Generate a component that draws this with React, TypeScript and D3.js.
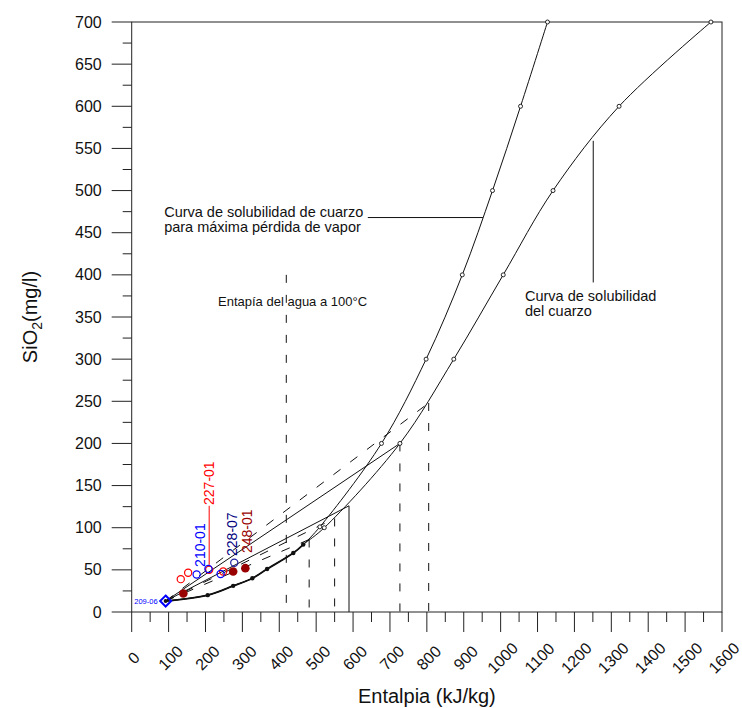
import React from "react";
import * as d3 from "d3";

// ---------- data (kJ/kg , mg/l) ----------
const xTickValues = [0, 100, 200, 300, 400, 500, 600, 700, 800, 900, 1000, 1100, 1200, 1300, 1400, 1500, 1600];
const yTickValues = [0, 50, 100, 150, 200, 250, 300, 350, 400, 450, 500, 550, 600, 650, 700];

// common low-temperature part of both solubility curves
const sharedLow: [number, number][] = [
  [92, 13], [206, 20], [275, 31], [327, 40], [367, 51], [438, 70], [465, 80],
];
// quartz solubility (no steam loss)
const quartzUpper: [number, number][] = [
  [522, 100], [727, 200], [873, 300], [1007, 400], [1142, 500], [1321, 600], [1570, 700],
];
// quartz solubility for maximum steam loss
const steamLossUpper: [number, number][] = [
  [510, 101], [677, 200], [798, 300], [896, 400], [978, 500], [1054, 600], [1127, 700],
];

const coldPoint: [number, number] = [92, 13]; // 209-06
const solidMixEnds: [number, number][] = [[589, 126], [727, 200]];
const dashedMixEnds: [number, number][] = [[481, 86], [550, 111], [805, 248]];
// vertical drop lines: [enthalpy, silica at top]
const solidDrops: [number, number][] = [[589, 126]];
const dashedDrops: [number, number][] = [[481, 86], [550, 111], [727, 200], [805, 248]];
const boilingWater: [number, number] = [419, 400];

const redOpen: [number, number][] = [[133, 39], [153, 46.5], [210, 50], [248, 48]];
const blueOpen: [number, number][] = [[176, 44.5], [208, 51], [241, 45]];
const navyOpen: [number, number][] = [[278, 58.5]];
const darkRedFilled: [number, number][] = [[140, 22], [275, 48], [308, 52]];

const sampleLabels = [
  { text: "227-01", x: 210, y: 127, color: "#ff0000" },
  { text: "210-01", x: 184, y: 53.5, color: "#0000ff" },
  { text: "228-07", x: 273, y: 66.5, color: "#000080" },
  { text: "248-01", x: 312.5, y: 70, color: "#990000" },
];
const leader22701: [number, number][] = [[210, 126], [210, 56]];

const noteSteam = { lines: ["Curva de solubilidad de cuarzo", "para máxima pérdida de vapor"], x: 88, y: 469 };
const noteSteamLeader: [number, number][] = [[640, 468], [952, 468]];
const noteQuartz = { lines: ["Curva de solubilidad", "del cuarzo"], x: 1066, y: 369 };
const noteQuartzLeader: [number, number][] = [[1251, 559], [1251, 391]];
const noteBoiling = { text: "Entapía del agua a 100°C", x: 234, y: 363 };

const FONT = "'Liberation Sans', Arial, Helvetica, sans-serif";

export default function App() {
  const W = 742, H = 708;
  const x = d3.scaleLinear().domain([0, 1600]).range([131.7, 722]);
  const y = d3.scaleLinear().domain([0, 700]).range([612, 22]);

  const curve = d3.line<[number, number]>().x(d => x(d[0])).y(d => y(d[1])).curve(d3.curveCatmullRom.alpha(0.5));
  const straight = d3.line<[number, number]>().x(d => x(d[0])).y(d => y(d[1]));

  const quartzAll = sharedLow.concat(quartzUpper);
  const steamAll = sharedLow.concat(steamLossUpper);

  const xMinor = xTickValues.slice(0, -1).map(v => v + 50);
  const yMinor = yTickValues.slice(0, -1).map(v => v + 25);

  const [x0, x1] = x.range();
  const [y0, y1] = y.range();

  const diamond = (cx: number, cy: number, r: number) =>
    `M${cx},${cy - r}L${cx + r},${cy}L${cx},${cy + r}L${cx - r},${cy}Z`;

  return (
    <svg width={W} height={H} style={{ position: "absolute", left: 0, top: 0, background: "#fff" }} fontFamily={FONT}>
      <rect x={0} y={0} width={W} height={H} fill="#fff" />
      {/* frame */}
      <rect x={x0} y={y1} width={x1 - x0} height={y0 - y1} fill="none" stroke="#222" strokeWidth={1} />

      {/* y ticks */}
      {yTickValues.map(v => (
        <g key={"yt" + v}>
          <line x1={x0 - 20} x2={x0} y1={y(v)} y2={y(v)} stroke="#222" />
          <text x={x0 - 30} y={y(v)} textAnchor="end" dominantBaseline="central" fontSize={16} fill="#111">{v}</text>
        </g>
      ))}
      {yMinor.map(v => (
        <line key={"ym" + v} x1={x0 - 9} x2={x0} y1={y(v)} y2={y(v)} stroke="#222" />
      ))}
      {/* x ticks */}
      {xTickValues.map(v => (
        <g key={"xt" + v}>
          <line x1={x(v)} x2={x(v)} y1={y0} y2={y0 + 20} stroke="#222" />
          <text transform={`translate(${x(v) + 2},${y0 + 46}) rotate(-45)`} textAnchor="middle" dominantBaseline="central" fontSize={16} fill="#111">{v}</text>
        </g>
      ))}
      {xMinor.map(v => (
        <line key={"xm" + v} x1={x(v)} x2={x(v)} y1={y0} y2={y0 + 10} stroke="#222" />
      ))}

      {/* axis titles */}
      <text x={(x0 + x1) / 2} y={703} textAnchor="middle" fontSize={20} fill="#111">Entalpia (kJ/kg)</text>
      <text transform={`translate(37,${(y0 + y1) / 2})rotate(-90)`} textAnchor="middle" fontSize={20} fill="#111">
        SiO<tspan dy={5} fontSize={14}>2</tspan><tspan dy={-5}>(mg/l)</tspan>
      </text>

      {/* boiling water enthalpy */}
      <line x1={x(boilingWater[0])} x2={x(boilingWater[0])} y1={y(boilingWater[1])} y2={y0} stroke="#111" strokeDasharray="8,12" />

      {/* mixing lines */}
      {solidMixEnds.map((e, i) => (
        <path key={"sm" + i} d={straight([coldPoint, e]) || ""} fill="none" stroke="#111" strokeWidth={1} />
      ))}
      {dashedMixEnds.map((e, i) => (
        <path key={"dm" + i} d={straight([coldPoint, e]) || ""} fill="none" stroke="#111" strokeDasharray="9,12" />
      ))}
      {solidDrops.map((e, i) => (
        <line key={"sd" + i} x1={x(e[0])} x2={x(e[0])} y1={y(e[1])} y2={y0} stroke="#111" strokeWidth={1} />
      ))}
      {dashedDrops.map((e, i) => (
        <line key={"dd" + i} x1={x(e[0])} x2={x(e[0])} y1={y(e[1])} y2={y0} stroke="#111" strokeDasharray="8,12" />
      ))}

      {/* solubility curves */}
      <path d={curve(quartzAll) || ""} fill="none" stroke="#111" strokeWidth={1} />
      <path d={curve(steamAll) || ""} fill="none" stroke="#111" strokeWidth={1} />
      <path d={curve(sharedLow) || ""} fill="none" stroke="#111" strokeWidth={1.8} />
      {sharedLow.slice(1).map((p, i) => (
        <circle key={"sl" + i} cx={x(p[0])} cy={y(p[1])} r={2.2} fill="#111" />
      ))}
      {quartzUpper.concat(steamLossUpper).map((p, i) => (
        <circle key={"up" + i} cx={x(p[0])} cy={y(p[1])} r={2} fill="#fff" stroke="#111" strokeWidth={0.9} />
      ))}

      {/* annotations */}
      {noteSteam.lines.map((t, i) => (
        <text key={"ns" + i} x={x(noteSteam.x)} y={y(noteSteam.y) + i * 15} fontSize={14.5} fill="#111">{t}</text>
      ))}
      <path d={straight(noteSteamLeader) || ""} stroke="#111" fill="none" />
      {noteQuartz.lines.map((t, i) => (
        <text key={"nq" + i} x={x(noteQuartz.x)} y={y(noteQuartz.y) + i * 15} fontSize={14.5} fill="#111">{t}</text>
      ))}
      <path d={straight(noteQuartzLeader) || ""} stroke="#111" fill="none" />
      <text x={x(noteBoiling.x)} y={y(noteBoiling.y)} fontSize={13} fill="#111">{noteBoiling.text}</text>

      {/* samples */}
      <path d={straight(leader22701) || ""} stroke="#ff0000" fill="none" />
      {redOpen.map((p, i) => (
        <circle key={"ro" + i} cx={x(p[0])} cy={y(p[1])} r={3.6} fill="none" stroke="#ff0000" strokeWidth={1.2} />
      ))}
      {blueOpen.map((p, i) => (
        <circle key={"bo" + i} cx={x(p[0])} cy={y(p[1])} r={3.6} fill="none" stroke="#0000ff" strokeWidth={1.2} />
      ))}
      {navyOpen.map((p, i) => (
        <circle key={"no" + i} cx={x(p[0])} cy={y(p[1])} r={3.6} fill="none" stroke="#2020a0" strokeWidth={1.2} />
      ))}
      {darkRedFilled.map((p, i) => (
        <circle key={"df" + i} cx={x(p[0])} cy={y(p[1])} r={4.3} fill="#990000" />
      ))}
      <path d={diamond(x(coldPoint[0]), y(coldPoint[1]), 5.5)} fill="none" stroke="#0000ff" strokeWidth={2} />
      <circle cx={x(coldPoint[0])} cy={y(coldPoint[1])} r={2} fill="#111" />
      <text x={x(coldPoint[0]) - 8} y={y(coldPoint[1]) + 3} textAnchor="end" fontSize={7.5} fill="#0000ff">209-06</text>
      {sampleLabels.map(l => (
        <text key={l.text} transform={`translate(${x(l.x) + 5},${y(l.y)})rotate(-90)`} fontSize={14} fill={l.color}>{l.text}</text>
      ))}
    </svg>
  );
}
